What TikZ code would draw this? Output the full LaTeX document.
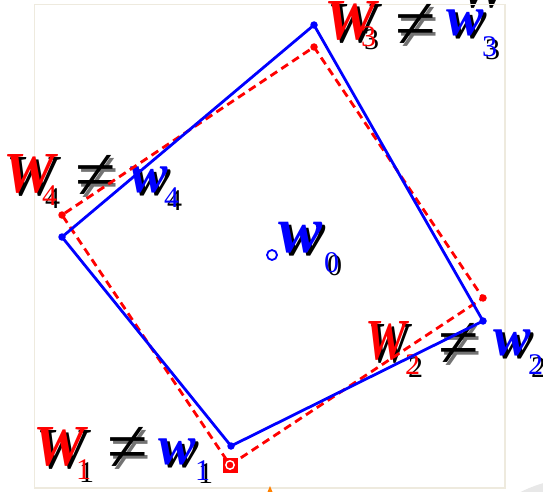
\documentclass[tikz,border=0pt]{standalone}
\usepackage{fontspec}
\setmainfont{Liberation Serif}
\newcommand\shd[3][black]{\leavevmode\rlap{\kern3pt\raisebox{-3pt}{\color{#1}#3}}{\color{#2}#3}}
\definecolor{framec}{RGB}{238,234,222}
\begin{document}
\begin{tikzpicture}[x=1pt,y=-1pt,
  lab/.style={inner sep=0pt, outer sep=0pt, anchor=base west},
  bigW/.style={lab, font=\fontsize{58}{58}\selectfont\bfseries\itshape},
  smallw/.style={lab, font=\fontsize{56}{56}\selectfont\bfseries\itshape},
  subs/.style={lab, font=\fontsize{30}{30}\selectfont},
  neq/.style={inner sep=0pt, outer sep=0pt, font=\fontsize{74}{74}\selectfont},
  blueline/.style={draw=blue, line width=2.8pt, line join=round},
  redline/.style={draw=red, line width=2.8pt, dash pattern=on 8pt off 5pt},
  bdot/.style={circle, fill=blue, inner sep=0pt, minimum size=7.5pt},
  rdot/.style={circle, fill=red, inner sep=0pt, minimum size=7.5pt}]
\useasboundingbox (0,0) rectangle (543,492);
\begin{scope}
\clip (0,0) rectangle (543,492);
\fill[gray!18] (580,611) circle (133);
\node[bigW, text=black] (frag) at (458,8) {W};
\end{scope}
\draw[framec, line width=1.6pt] (34.5,4.5) rectangle (505,488);
\fill[orange] (267.5,492) -- (270,486) -- (272.5,492) -- cycle;

% labels
\node[bigW] (W3) at (324,40) {\shd{red}{W}};
\node[subs] (s3) at (361,47) {\shd{red}{3}};
\node[neq] (n3) at (416,28) {\shd[black!55]{black}{≠}};
\node[smallw] (w3) at (446,36) {\shd{blue}{w}};
\node[subs] (t3) at (482,57) {\shd{blue}{3}};

\node[bigW] (W4) at (3,192) {\shd{red}{W}};
\node[subs] (s4) at (42,205) {\shd{red}{4}};
\node[neq] (n4) at (96,179) {\shd[black!55]{black}{≠}};
\node[smallw] (w4) at (130,192) {\shd{blue}{w}};
\node[subs] (t4) at (164,207) {\shd{blue}{4}};

\node[bigW] (W2) at (365,359) {\shd{red}{\scalebox{0.8}[1]{W}}};
\node[subs] (s2) at (405,374) {\shd{red}{2}};
\node[neq] (n2) at (459,347) {\shd[black!55]{black}{≠}};
\node[smallw] (w2) at (493,355) {\shd{blue}{w}};
\node[subs] (t2) at (528,374) {\shd{blue}{2}};

\node[bigW] (W1) at (33,465) {\shd{red}{W}};
\node[subs] (s1) at (76,479) {\shd{red}{1}};
\node[neq] (n1) at (128,451) {\shd[black!55]{black}{≠}};
\node[smallw] (w1) at (158,464) {\shd{blue}{w}};
\node[subs] (t1) at (195,480) {\shd{blue}{1}};

\node[smallw, font=\fontsize{66}{66}\selectfont\bfseries\itshape] (w0) at (278,252) {\shd{blue}{w}};
\node[subs] (t0) at (324,272) {\shd{blue}{0}};

% polygons
\coordinate (r1) at (230,465);
\coordinate (r2) at (483,298);
\coordinate (r3) at (314,47);
\coordinate (r4) at (62,215);
\coordinate (b1) at (231,446);
\coordinate (b2) at (483,321);
\coordinate (b3) at (314,25);
\coordinate (b4) at (62,237);
\draw[redline] (r1) -- (r2) -- (r3) -- (r4) -- cycle;
\draw[blueline] (b1) -- (b2) -- (b3) -- (b4) -- cycle;
\foreach \p in {b1,b2,b3,b4} \node[bdot] (d\p) at (\p) {};
\foreach \p in {r2,r3,r4} \node[rdot] (d\p) at (\p) {};
\node[rectangle, fill=red, inner sep=0pt, minimum size=15pt] (sq) at (r1) {};
\draw[white, line width=1.4pt] (sq.center) circle (4.2);
\fill[red] (sq.center) circle (2.6);
\node[circle, draw=blue, fill=white, line width=1.8pt, inner sep=0pt, minimum size=10pt] (c0) at (272,255) {};
\end{tikzpicture}
\end{document}
